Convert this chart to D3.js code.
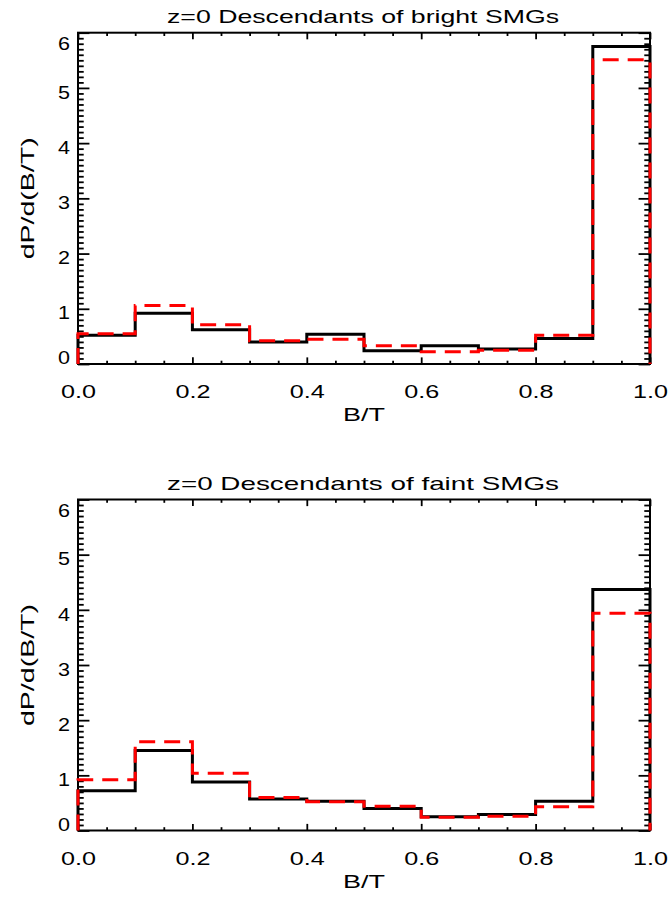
<!DOCTYPE html>
<html>
<head>
<meta charset="utf-8">
<script src="https://cdn.jsdelivr.net/npm/d3@7"></script>
<style>
  html, body { margin: 0; padding: 0; background: #ffffff; }
  svg { display: block; }
</style>
</head>
<body>
<svg id="chart" width="672" height="903"></svg>
<script>
// Bulge-to-total distributions of z=0 descendants, two samples, two models each
const panelTitles = ["z=0 Descendants of bright SMGs", "z=0 Descendants of faint SMGs"];
const binEdges = [0.0, 0.1, 0.2, 0.3, 0.4, 0.5, 0.6, 0.7, 0.8, 0.9, 1.0];

// dP/d(B/T) per bin: solid black and dashed red histograms
const solidBright  = [0.52, 0.92, 0.62, 0.40, 0.54, 0.24, 0.33, 0.27, 0.46, 5.75];
const dashedBright = [0.55, 1.06, 0.71, 0.42, 0.45, 0.33, 0.22, 0.25, 0.52, 5.51];
const solidFaint   = [0.72, 1.45, 0.88, 0.57, 0.53, 0.40, 0.25, 0.29, 0.53, 4.37];
const dashedFaint  = [0.92, 1.61, 1.04, 0.60, 0.52, 0.44, 0.24, 0.26, 0.43, 3.94];

const xTickValues = [0.0, 0.2, 0.4, 0.6, 0.8, 1.0];
const xTickLabels = ["0.0", "0.2", "0.4", "0.6", "0.8", "1.0"];
const yTickValues = [0, 1, 2, 3, 4, 5, 6];
const yTickLabels = ["0", "1", "2", "3", "4", "5", "6"];
const xLabel = "B/T";
const yLabel = "dP/d(B/T)";

const svg = d3.select("#chart");
const font = "'Liberation Sans', 'DejaVu Sans', sans-serif";
const fontSize = 19;
const left = 78, right = 650;

const panels = [
  { title: panelTitles[0], solid: solidBright, dashed: dashedBright, top: 32.7, bottom: 364 },
  { title: panelTitles[1], solid: solidFaint,  dashed: dashedFaint,  top: 499.5, bottom: 830.5 }
];

// minor tick positions (every 0.05 in x, every 0.1 in y), skipping the majors
const xMinor = d3.range(0, 21).map(i => i * 0.05).filter(v => Math.abs(v / 0.2 - Math.round(v / 0.2)) > 1e-6);
const yMinor = d3.range(0, 61).map(i => i * 0.1).filter(v => Math.abs(v - Math.round(v)) > 1e-6);

function stepPoints(values) {
  const pts = [[binEdges[0], 0]];
  values.forEach((v, i) => { pts.push([binEdges[i], v]); pts.push([binEdges[i + 1], v]); });
  pts.push([binEdges[binEdges.length - 1], 0]);
  return pts;
}

function styleAxis(sel) {
  sel.select(".domain").remove();
  sel.selectAll(".tick line").attr("stroke", "#000").attr("stroke-width", 1.8);
}

panels.forEach(p => {
  const x = d3.scaleLinear().domain([0, 1]).range([left, right]);
  const y = d3.scaleLinear().domain([0, 6]).range([p.bottom, p.top]);
  const plotH = p.bottom - p.top, plotW = right - left;
  const xMajLen = plotH * 0.02, yMajLen = plotW * 0.02;

  const g = svg.append("g");

  // x axes: bottom (labelled) and top, ticks pointing inward
  const bottomMajor = g.append("g").attr("transform", `translate(0,${p.bottom})`)
    .call(d3.axisBottom(x).tickValues(xTickValues).tickSize(-xMajLen)
      .tickFormat((d, i) => xTickLabels[i]));
  bottomMajor.selectAll(".tick text")
    .attr("y", 34).attr("dy", null)
    .attr("font-family", font).attr("font-size", fontSize).attr("fill", "#000")
    .attr("textLength", 35).attr("lengthAdjust", "spacingAndGlyphs");
  styleAxis(bottomMajor);
  styleAxis(g.append("g").attr("transform", `translate(0,${p.bottom})`)
    .call(d3.axisBottom(x).tickValues(xMinor).tickSize(-xMajLen / 2).tickFormat("")));
  styleAxis(g.append("g").attr("transform", `translate(0,${p.top})`)
    .call(d3.axisTop(x).tickValues(xTickValues).tickSize(-xMajLen).tickFormat("")));
  styleAxis(g.append("g").attr("transform", `translate(0,${p.top})`)
    .call(d3.axisTop(x).tickValues(xMinor).tickSize(-xMajLen / 2).tickFormat("")));

  // y axes: left (labelled) and right
  const leftMajor = g.append("g").attr("transform", `translate(${left},0)`)
    .call(d3.axisLeft(y).tickValues(yTickValues).tickSize(-yMajLen).tickPadding(8)
      .tickFormat((d, i) => yTickLabels[i]));
  leftMajor.selectAll(".tick text")
    .attr("font-family", font).attr("font-size", fontSize).attr("fill", "#000")
    .attr("dy", null)
    .attr("textLength", 12).attr("lengthAdjust", "spacingAndGlyphs")
    .attr("y", d => {
      const c = Math.max(p.top + 10, Math.min(p.bottom - 7, y(d) + 3.3));
      return c + 6.9 - y(d);
    });
  styleAxis(leftMajor);
  styleAxis(g.append("g").attr("transform", `translate(${left},0)`)
    .call(d3.axisLeft(y).tickValues(yMinor).tickSize(-yMajLen / 2).tickFormat("")));
  styleAxis(g.append("g").attr("transform", `translate(${right},0)`)
    .call(d3.axisRight(y).tickValues(yTickValues).tickSize(-yMajLen).tickFormat("")));
  styleAxis(g.append("g").attr("transform", `translate(${right},0)`)
    .call(d3.axisRight(y).tickValues(yMinor).tickSize(-yMajLen / 2).tickFormat("")));

  // plot frame
  g.append("rect")
    .attr("x", left).attr("y", p.top).attr("width", plotW).attr("height", plotH)
    .attr("fill", "none").attr("stroke", "#000").attr("stroke-width", 2);

  // histograms
  const line = d3.line().x(d => x(d[0])).y(d => y(d[1]));
  g.append("path").datum(stepPoints(p.solid)).attr("d", line)
    .attr("fill", "none").attr("stroke", "#000").attr("stroke-width", 3)
    .attr("stroke-linejoin", "miter");
  g.append("path").datum(stepPoints(p.dashed)).attr("d", line)
    .attr("fill", "none").attr("stroke", "#ff0000").attr("stroke-width", 3)
    .attr("stroke-dasharray", "16,9");

  // title and axis labels
  g.append("text").attr("x", 363).attr("y", p.top - 9.4)
    .attr("text-anchor", "middle").attr("font-family", font).attr("font-size", fontSize)
    .attr("textLength", 392).attr("lengthAdjust", "spacingAndGlyphs")
    .text(p.title);
  g.append("text").attr("x", (left + right) / 2).attr("y", p.bottom + 57)
    .attr("text-anchor", "middle").attr("font-family", font).attr("font-size", fontSize)
    .attr("textLength", 42).attr("lengthAdjust", "spacingAndGlyphs")
    .text(xLabel);
  g.append("text")
    .attr("transform", `translate(33.5,${(p.top + p.bottom) / 2}) rotate(-90)`)
    .attr("text-anchor", "middle").attr("font-family", font).attr("font-size", fontSize)
    .attr("textLength", 122).attr("lengthAdjust", "spacingAndGlyphs")
    .text(yLabel);
});
</script>
</body>
</html>
